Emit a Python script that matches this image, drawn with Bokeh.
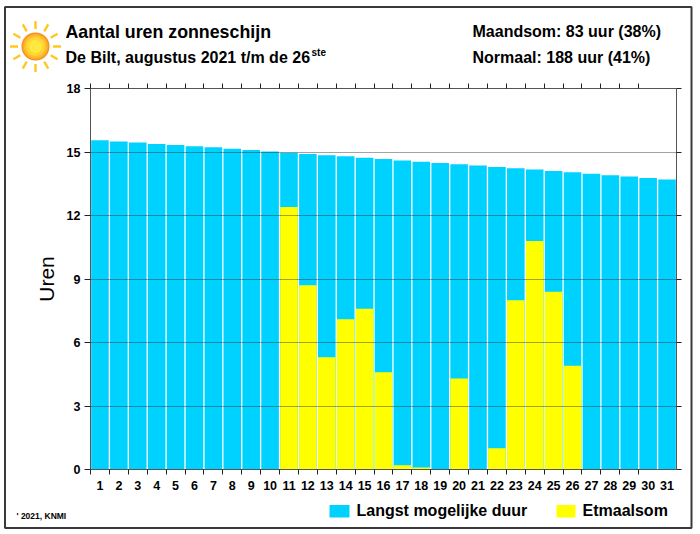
import numpy as np
from bokeh.embed import file_html
from bokeh.models import ColumnDataSource, FixedTicker, Grid, LinearAxis, Range1d
from bokeh.plotting import figure
from bokeh.resources import INLINE

days = list(range(1, 32))
langst_mogelijk = [15.55, 15.50, 15.45, 15.38, 15.33, 15.27, 15.22, 15.15, 15.09, 15.02,
                   14.96, 14.91, 14.85, 14.80, 14.73, 14.67, 14.60, 14.54, 14.48, 14.42,
                   14.36, 14.29, 14.23, 14.17, 14.10, 14.04, 13.97, 13.90, 13.84, 13.77, 13.70]
etmaalsom = [0, 0, 0, 0, 0, 0, 0, 0, 0, 0,
             12.4, 8.7, 5.3, 7.1, 7.6, 4.6, 0.2, 0.1, 0, 4.3,
             0, 1.0, 8.0, 10.8, 8.4, 4.9, 0, 0, 0, 0, 0]
y_ticks = [0, 3, 6, 9, 12, 15, 18]
BLUE = "#00d2ff"
YELLOW = "#ffff00"
FONT = "Liberation Sans"
ABS = {"position": "absolute", "left": "0px", "top": "0px"}

# ---------- page furniture: a figure whose frame is the whole page, in pixels
bg = figure(width=700, height=534, output_backend="svg", toolbar_location=None,
            x_range=Range1d(0, 700), y_range=Range1d(534, 0),
            min_border=0, x_axis_type=None, y_axis_type=None)
bg.styles = ABS
bg.outline_line_color = None


def text(x, y, s, size):
    bg.text(x=[x], y=[y], text=[s], text_font={"value": FONT}, text_font_style="bold",
            text_font_size=size, text_color="#000000", text_baseline="middle", text_align="left")


# outer frame
bg.quad(left=[4.5], right=[691], top=[6.5], bottom=[527.5], fill_color=None,
        line_color="#3a3a3a", line_width=2)

# sun
cx, cy = 35, 46
ray_x, ray_y = [], []
for a in np.arange(0, 360, 30):
    r = np.radians(a)
    ux, uy = np.cos(r), np.sin(r)
    r0, r1, w = 17.5, 25.5, 1.2
    ray_x.append([cx + ux * r0 - uy * w, cx + ux * r1 - uy * w, cx + ux * r1 + uy * w, cx + ux * r0 + uy * w])
    ray_y.append([cy + uy * r0 + ux * w, cy + uy * r1 + ux * w, cy + uy * r1 - ux * w, cy + uy * r0 - ux * w])
bg.patches(ray_x, ray_y, fill_color="#ffc81e", line_color=None)
for rad, col in [(14, "#f58c1e"), (13, "#fba825"), (11.5, "#fdc02c"), (9.5, "#ffd633"), (6.5, "#ffe840")]:
    bg.circle(x=[cx], y=[cy], radius=rad, fill_color=col, line_color=None)

# headings
text(65, 31, "Aantal uren zonneschijn", "17.8px")
text(65, 56.5, "De Bilt, augustus 2021 t/m de 26", "16px")
text(311, 52, "ste", "10px")
text(472, 31, "Maandsom: 83 uur (38%)", "16px")
text(472, 57, "Normaal: 188 uur (41%)", "16px")
text(16, 515, "' 2021, KNMI", "8.5px")

# legend
bg.quad(left=[329, 556], right=[349, 575], top=[504.5, 504.5], bottom=[517, 517],
        fill_color=[BLUE, YELLOW], line_color=None)
text(356, 510, "Langst mogelijke duur", "16px")
text(582, 510, "Etmaalsom", "16px")

# ---------- the chart itself
source = ColumnDataSource(dict(day=days, langst=langst_mogelijk, etmaal=etmaalsom))

p = figure(width=700, height=534, output_backend="svg", toolbar_location=None,
           x_range=Range1d(0.5, 31.5), y_range=Range1d(0, 18),
           min_border_left=90, min_border_right=24, min_border_top=88, min_border_bottom=65,
           x_axis_type=None, y_axis_type=None,
           border_fill_color=None, background_fill_color=None)
p.styles = ABS
p.outline_line_color = None

p.vbar(x="day", top="langst", width=0.93, fill_color=BLUE, line_color=None, source=source, level="underlay")
p.vbar(x="day", top="etmaal", width=0.93, fill_color=YELLOW, line_color=None, source=source, level="underlay")

x_ticker = FixedTicker(ticks=days, minor_ticks=[d - 0.5 for d in days[:-1]])
y_ticker = FixedTicker(ticks=y_ticks)


def style_axis(ax, labels=True):
    ax.axis_line_color = "#555555"
    ax.axis_line_width = 1
    ax.major_tick_line_color = "#222222"
    ax.minor_tick_line_color = "#222222"
    ax.major_tick_in = 0
    ax.minor_tick_in = 0
    ax.minor_tick_out = 5
    if labels:
        ax.major_label_text_font = FONT
        ax.major_label_text_font_style = "bold"
        ax.major_label_text_font_size = "12.5px"
        ax.major_label_text_color = "#000000"
    else:
        ax.major_label_text_font_size = "0px"
        ax.major_label_text_color = None


bottom = LinearAxis(ticker=x_ticker)
style_axis(bottom)
bottom.major_tick_out = 0
bottom.major_label_standoff = 6
p.add_layout(bottom, "below")

top = LinearAxis(ticker=x_ticker)
style_axis(top, labels=False)
top.major_tick_out = 0
p.add_layout(top, "above")

left = LinearAxis(ticker=y_ticker, axis_label="Uren")
style_axis(left)
left.major_tick_out = 6
left.major_label_standoff = 4
left.axis_label_text_font = FONT
left.axis_label_text_font_style = "normal"
left.axis_label_text_font_size = "21px"
left.axis_label_text_color = "#000000"
left.axis_label_standoff = 6
p.add_layout(left, "left")

right = LinearAxis(ticker=y_ticker)
style_axis(right, labels=False)
right.major_tick_out = 5
p.add_layout(right, "right")

p.add_layout(Grid(dimension=1, ticker=y_ticker, axis=left, grid_line_color="#333333", grid_line_alpha=0.45,
                  grid_line_width=1, level="overlay"))

open("out.html", "w").write(file_html((bg, p), INLINE))
